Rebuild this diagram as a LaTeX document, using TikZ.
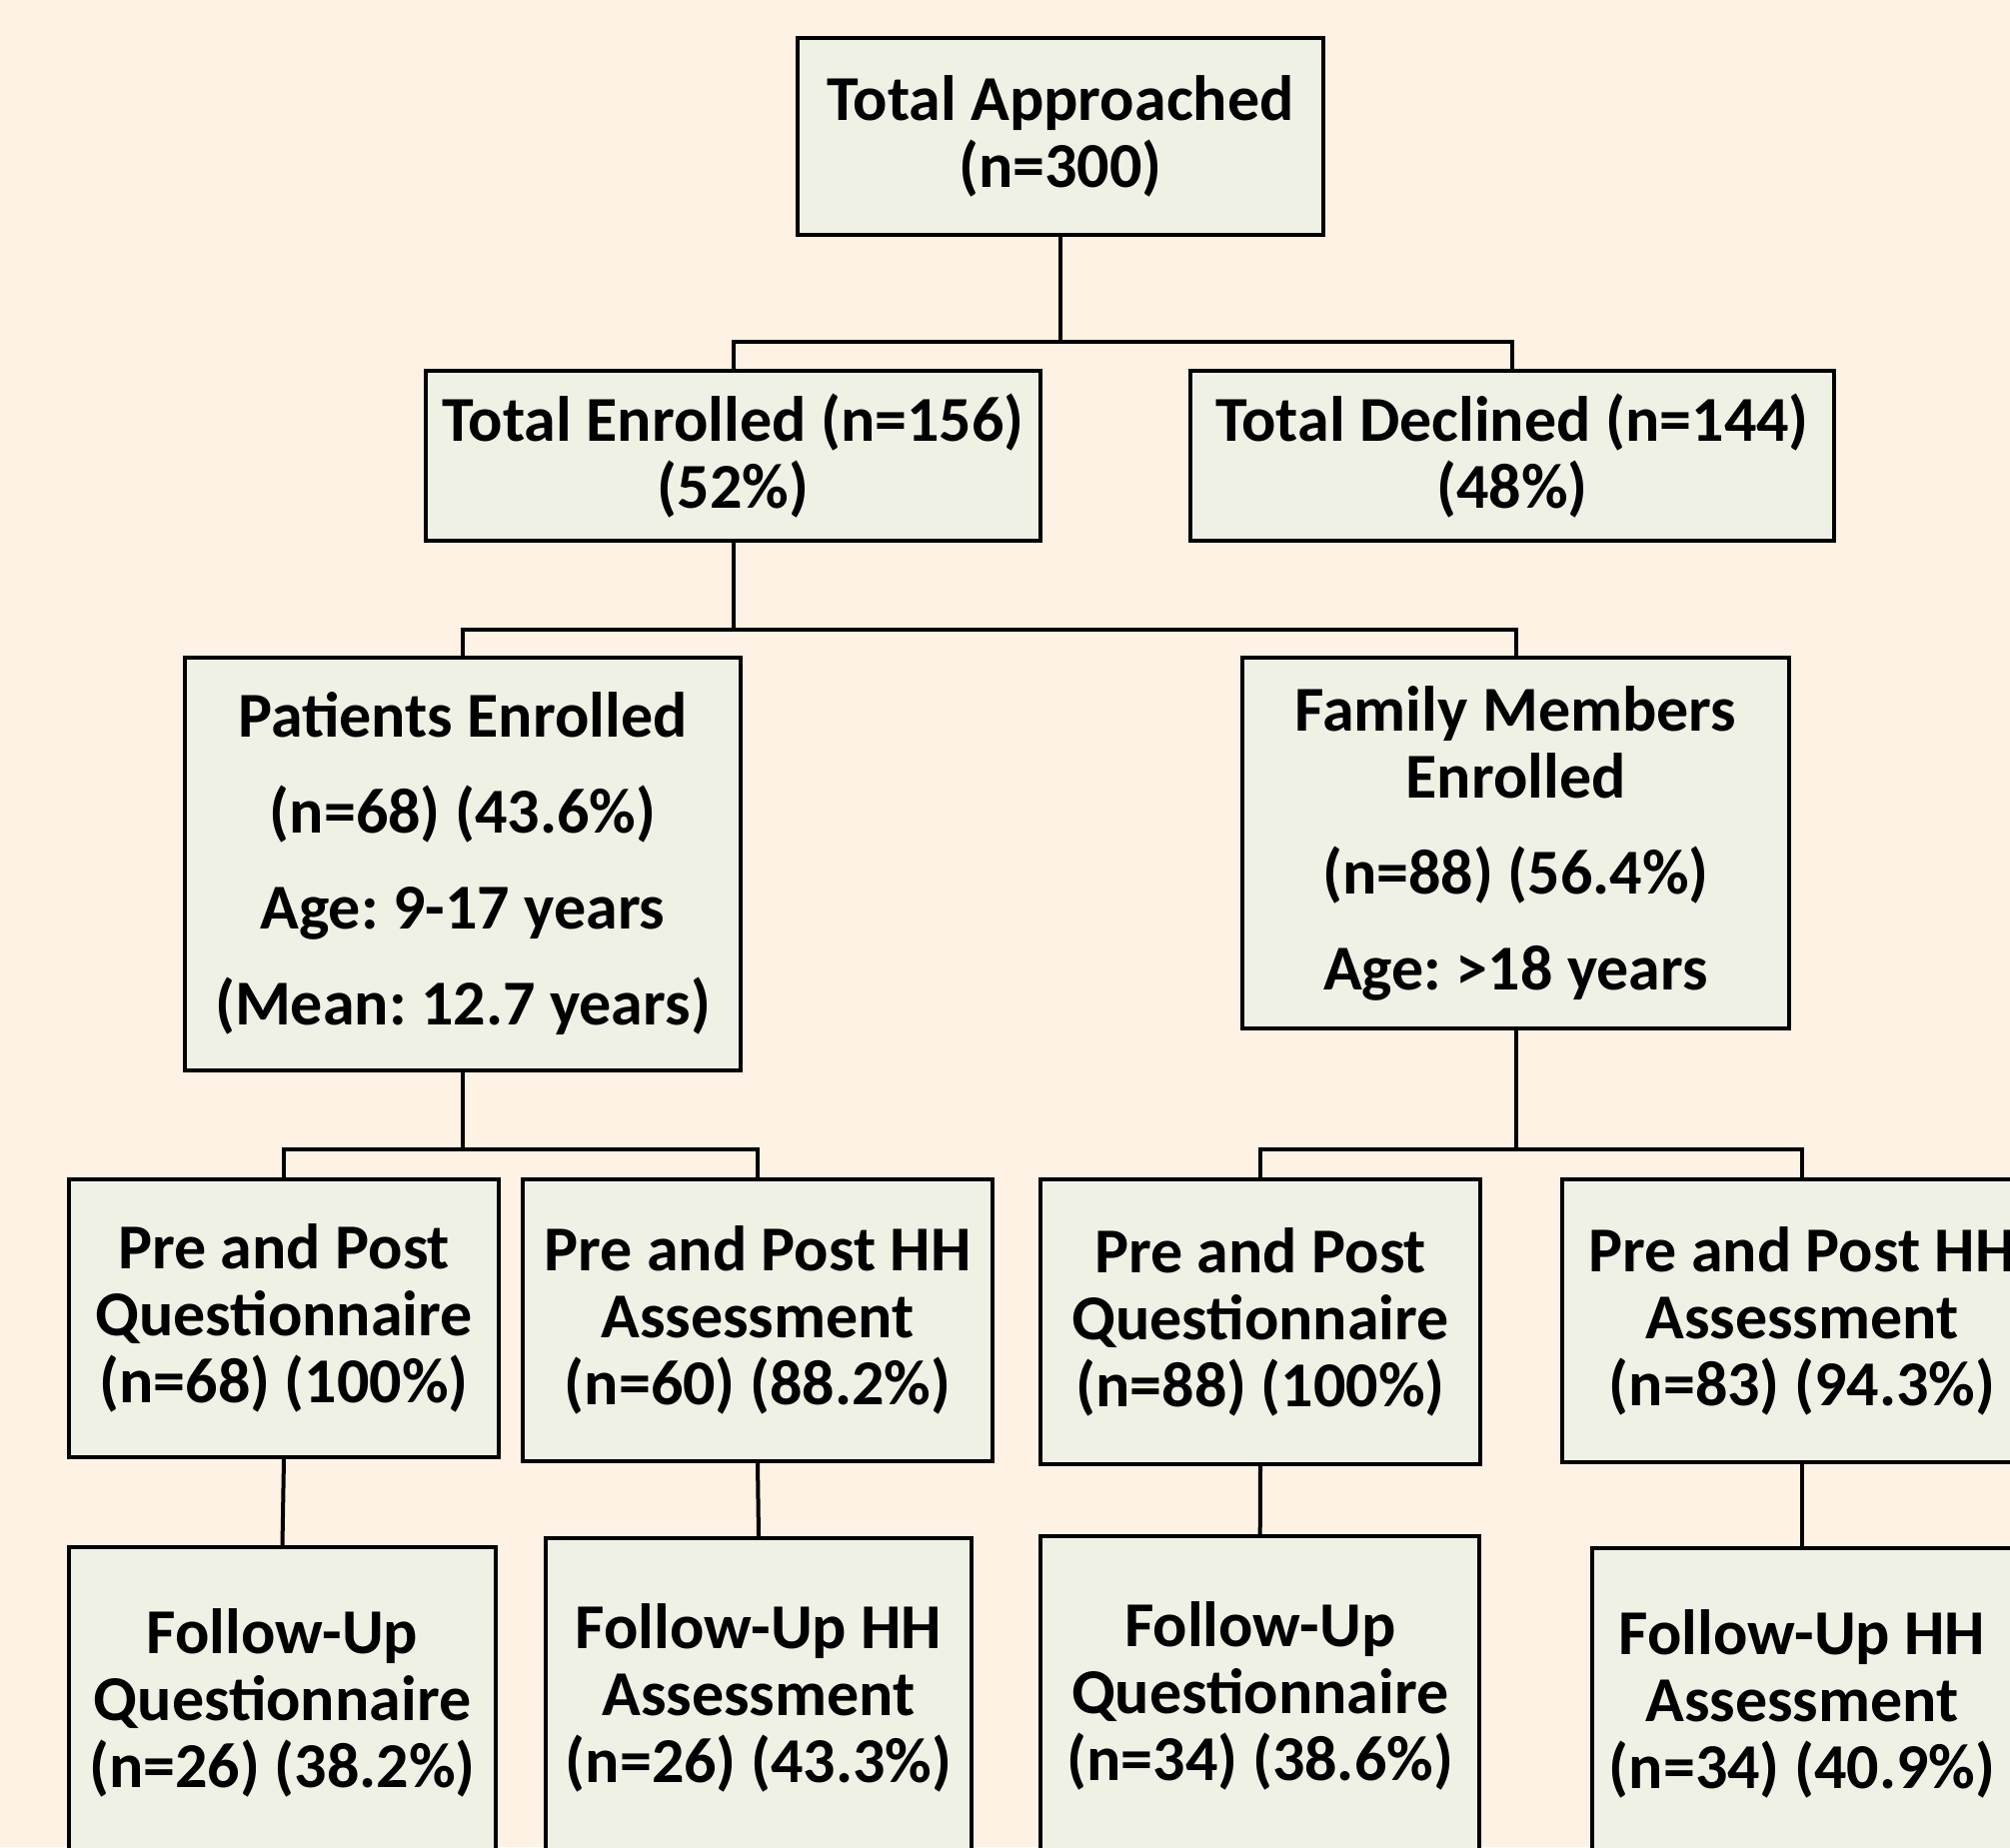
\documentclass[tikz,border=0pt]{standalone}
\usepackage{fontspec}
\setmainfont{Carlito}
\definecolor{bgc}{RGB}{254,242,228}
\definecolor{boxc}{RGB}{238,241,228}
\frenchspacing
\begin{document}
\begin{tikzpicture}[x=0.5pt,y=-0.5pt,
  box/.style={draw=black, fill=boxc, line width=2.2pt, rectangle, align=center, inner sep=0pt,
    font=\fontsize{32pt}{33.5pt}\selectfont\bfseries},
  link/.style={line width=2pt, draw=black}]
\useasboundingbox (0,0) rectangle (2011,1848);
\fill[bgc] (0,0) rectangle (2011,1848);
\clip (0,0) rectangle (2011,1848);

\node[box, minimum width=263pt, minimum height=98.5pt] (A) at (1061,136.5) {Total Approached\\(n=300)};
\node[box, minimum width=307.5pt, minimum height=85pt] (E) at (733.5,456) {Total Enrolled (n=156)\\(52\%)};
\node[box, minimum width=322pt, minimum height=85pt] (D) at (1513,456) {Total Declined (n=144)\\(48\%)};
\node[box, minimum width=278pt, minimum height=206.5pt] (P) at (463,864.5) {Patients Enrolled\\[14.5pt](n=68) (43.6\%)\\[14.5pt]Age: 9-17 years\\[14.5pt](Mean: 12.7 years)};
\node[box, minimum width=273.5pt, minimum height=185.5pt] (F) at (1516.5,843.5) {Family Members\\Enrolled\\[14.5pt](n=88) (56.4\%)\\[14.5pt]Age: >18 years};
\node[box, minimum width=215pt, minimum height=139pt] (Q1) at (284,1319) {Pre and Post\\Questionnaire\\(n=68) (100\%)};
\node[box, minimum width=235pt, minimum height=141pt] (H1) at (758,1321) {Pre and Post HH\\Assessment\\(n=60) (88.2\%)};
\node[box, minimum width=220pt, minimum height=142.5pt] (Q2) at (1261,1322.5) {Pre and Post\\Questionnaire\\(n=88) (100\%)};
\node[box, minimum width=240pt, minimum height=141.5pt] (H2) at (1803,1321.5) {Pre and Post HH\\Assessment\\(n=83) (94.3\%)};
\node[box, minimum width=213.5pt, minimum height=156pt] (U1) at (282.5,1704) {Follow-Up\\Questionnaire\\(n=26) (38.2\%)};
\node[box, minimum width=213pt, minimum height=160pt] (V1) at (759,1699) {Follow-Up HH\\Assessment\\(n=26) (43.3\%)};
\node[box, minimum width=219.5pt, minimum height=160pt] (U2) at (1260.7,1697) {Follow-Up\\Questionnaire\\(n=34) (38.6\%)};
\node[box, minimum width=210pt, minimum height=156pt] (V2) at (1803,1705) {Follow-Up HH\\Assessment\\(n=34) (40.9\%)};

\coordinate (j1) at (1061,342);
\coordinate (j2) at (733.5,630);
\coordinate (j3) at (463,1150);
\coordinate (j4) at (1516.5,1150);

\draw[link] (A.south) -- (j1);
\draw[link] (j1) -| (E.north);
\draw[link] (j1) -| (D.north);
\draw[link] (E.south) -- (j2);
\draw[link] (j2) -| (P.north);
\draw[link] (j2) -| (F.north);
\draw[link] (P.south) -- (j3);
\draw[link] (j3) -| (Q1.north);
\draw[link] (j3) -| (H1.north);
\draw[link] (F.south) -- (j4);
\draw[link] (j4) -| (Q2.north);
\draw[link] (j4) -| (H2.north);
\draw[link] (Q1.south) -- (U1.north);
\draw[link] (H1.south) -- (V1.north);
\draw[link] (Q2.south) -- (U2.north);
\draw[link] (H2.south) -- (V2.north);
\end{tikzpicture}
\end{document}
